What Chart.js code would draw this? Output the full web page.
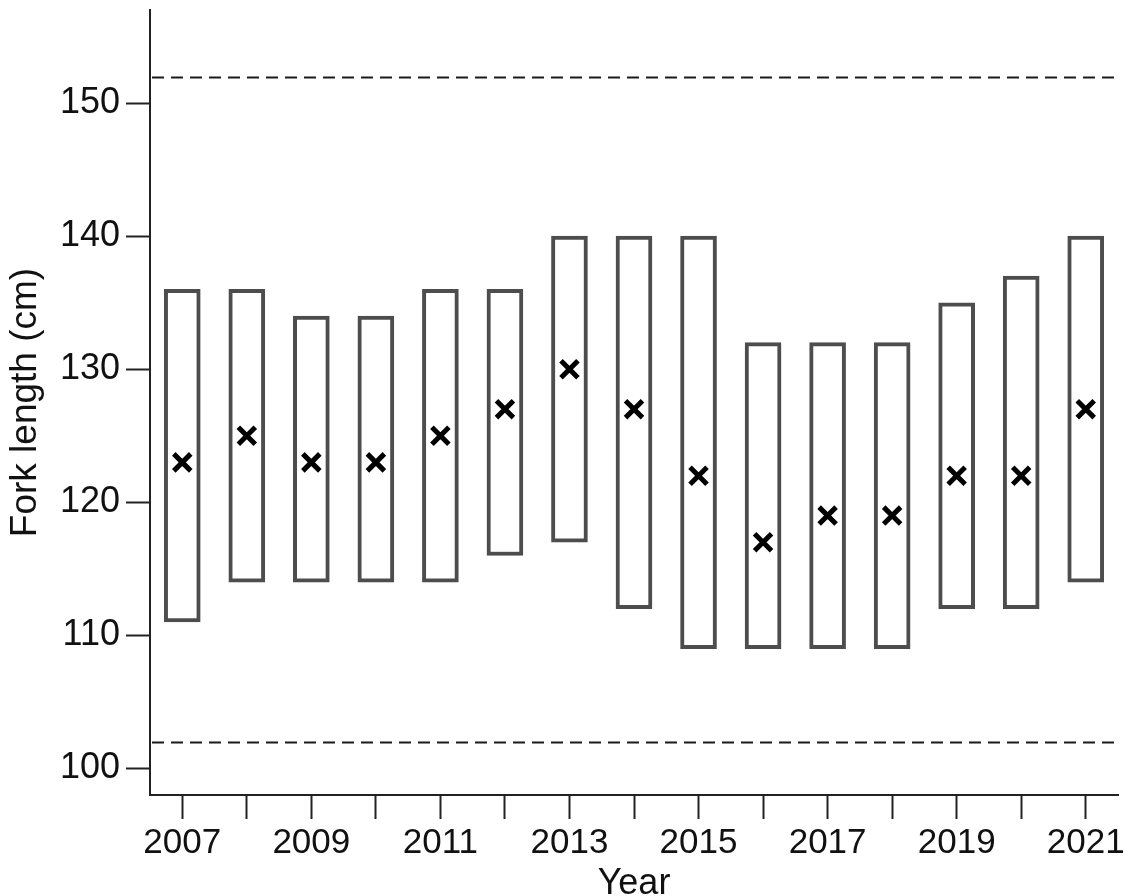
<!DOCTYPE html>
<html>
<head>
<meta charset="utf-8">
<script src="https://cdn.jsdelivr.net/npm/chart.js@4"></script>
<style>
  body { margin: 0; background: #fff; }
  #wrap { width: 1124px; height: 896px; }
</style>
</head>
<body>
<div id="wrap"><canvas id="myChart" width="1124" height="896"></canvas></div>
<script>
// data
var years = ['2007','2008','2009','2010','2011','2012','2013','2014','2015','2016','2017','2018','2019','2020','2021'];
var lowVals  = [111, 114, 114, 114, 114, 116, 117, 112, 109, 109, 109, 109, 112, 112, 114];
var highVals = [136, 136, 134, 134, 136, 136, 140, 140, 140, 132, 132, 132, 135, 137, 140];
var meanVals = [123, 125, 123, 123, 125, 127, 130, 127, 122, 117, 119, 119, 122, 122, 127];
var refLines = [102, 152];
var yTicks = [100, 110, 120, 130, 140, 150];

var axisCol = '#222222';
var fontFam = '"Liberation Sans", Arial, sans-serif';

// dashed reference lines
var refLinePlugin = {
  id: 'refLines',
  beforeDatasetsDraw: function(chart){
    var ctx = chart.ctx, y = chart.scales.y, area = chart.chartArea;
    ctx.save();
    ctx.strokeStyle = '#1a1a1a';
    ctx.lineWidth = 2;
    ctx.setLineDash([12, 7]);
    refLines.forEach(function(v){
      var py = Math.round(y.getPixelForValue(v)) + 0.5;
      ctx.beginPath();
      ctx.moveTo(area.left + 2, py);
      ctx.lineTo(area.right, py);
      ctx.stroke();
    });
    ctx.restore();
  }
};

const ctx = document.getElementById('myChart').getContext('2d');
const myChart = new Chart(ctx, {
  type: 'bar',
  data: {
    labels: years,
    datasets: [{
      type: 'line',
      label: 'mean',
      data: meanVals,
      showLine: false,
      pointStyle: 'crossRot',
      pointRadius: 12,
      pointBorderWidth: 5,
      borderColor: '#000',
      backgroundColor: '#000',
      order: 0
    }, {
      label: 'range',
      data: lowVals.map(function(v, i){ return [v, highVals[i]]; }),
      backgroundColor: '#ffffff',
      borderColor: '#4d4d4d',
      borderWidth: 4,
      borderSkipped: false,
      barThickness: 36,
      order: 1
    }]
  },
  options: {
    responsive: false,
    animation: false,
    layout: { autoPadding: false, padding: { top: 10, right: 6, left: 0, bottom: 0 } },
    plugins: { legend: { display: false }, tooltip: { enabled: false } },
    scales: {
      x: {
        type: 'category',
        offset: true,
        afterFit: function(s){ s.height = 101; s.paddingLeft = 0; s.paddingRight = 0; },
        grid: { offset: false, drawOnChartArea: false, tickLength: 24, tickWidth: 2, color: axisCol },
        border: { color: axisCol, width: 2 },
        ticks: {
          autoSkip: false, maxRotation: 0, padding: 3, color: '#111',
          font: { family: fontFam, size: 35 },
          callback: function(v, i){ return i % 2 === 0 ? years[i] : ''; }
        },
        title: { display: true, text: 'Year', color: '#111', font: { family: fontFam, size: 36 }, padding: { top: 0, bottom: -10 } }
      },
      y: {
        min: 98, max: 157,
        afterFit: function(s){ s.width = 150; s.paddingTop = 0; s.paddingBottom = 0; },
        afterBuildTicks: function(s){ s.ticks = yTicks.map(function(v){ return { value: v }; }); },
        grid: { drawOnChartArea: false, tickLength: 24, tickWidth: 2, color: axisCol },
        border: { color: axisCol, width: 2 },
        ticks: { padding: 6, color: '#111', font: { family: fontFam, size: 36 } },
        title: { display: true, text: 'Fork length (cm)', color: '#111', font: { family: fontFam, size: 37 }, padding: { top: 4, bottom: 0 } }
      }
    }
  },
  plugins: [refLinePlugin]
});
</script>
</body>
</html>
